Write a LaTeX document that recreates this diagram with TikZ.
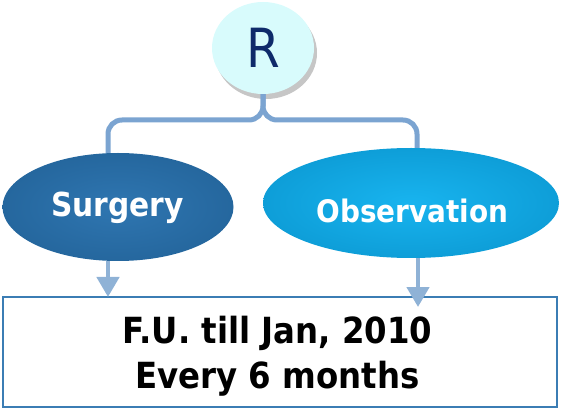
\documentclass[tikz,border=0pt]{standalone}
\usepackage{fontspec}
\setmainfont{DejaVu Sans Condensed}
\usetikzlibrary{shapes.geometric,shadows,arrows.meta}
\definecolor{rfill}{HTML}{D8FBFC}
\definecolor{rtext}{HTML}{0E2A6A}
\definecolor{bracec}{HTML}{7BA4D1}
\definecolor{surgc}{HTML}{2F76B1}
\definecolor{surgo}{HTML}{25679E}
\definecolor{obsc}{HTML}{18B4EF}
\definecolor{obso}{HTML}{0E9ED8}
\definecolor{arrc}{HTML}{8FB2D6}
\definecolor{boxc}{HTML}{3B7DB4}
\tikzset{
  roundnode/.style={ellipse, fill=rfill, minimum width=102pt, minimum height=92pt, inner sep=0pt,
    drop shadow={opacity=0.45, shadow xshift=3pt, shadow yshift=-5pt}},
  armnode/.style={ellipse, inner sep=0pt},
  armtext/.style={anchor=base, inner sep=0pt, text=white, font=\bfseries\fontsize{#1}{#1}\selectfont},
  fuarrow/.style={draw=arrc, line width=4.5pt, -{Triangle[width=22pt,length=20pt]}},
  bracestyle/.style={draw=bracec, line width=5pt, rounded corners=14pt},
  fubox/.style={draw=boxc, line width=1.6pt, fill=white, minimum width=554pt, minimum height=110pt, inner sep=0pt},
  futext/.style={anchor=base, inner sep=0pt, font=\bfseries\fontsize{36}{45}\selectfont}
}
\begin{document}
\begin{tikzpicture}[x=1pt,y=-1pt]
\useasboundingbox (0,0) rectangle (564,411);
\coordinate (bl) at (108,160);
\coordinate (br) at (417,160);
\coordinate (bm) at (263,120);
\node[roundnode] (r) at (263,48) {};
\node[anchor=base, inner sep=0pt, text=rtext, font=\fontsize{54}{54}\selectfont] (rl) at (263,68) {R};
\draw[bracestyle] (bl) -- (bl |- bm) -- (bm) -- (r.south);
\draw[bracestyle] (br) -- (br |- bm) -- (bm) -- (r.south);
\node[armnode, shade, inner color=surgc, outer color=surgo, minimum width=231pt, minimum height=108pt] (s) at (118,207) {};
\node[armtext=33] (st) at (117.5,217) {Surgery};
\node[armnode, shade, inner color=obsc, outer color=obso, minimum width=296pt, minimum height=110pt] (o) at (411,203) {};
\node[armtext=31] (ot) at (412.5,223) {Observation};
\node[fubox] (f) at (280,352) {};
\node[futext] (f1) at (277.5,343) {F.U. till Jan, 2010};
\node[futext] (f2) at (277.5,388) {Every 6 months};
\coordinate (fs) at (108,297);
\coordinate (fo) at (418,307);
\draw[fuarrow] (s.south -| fs) -- (fs);
\draw[fuarrow] (o.south -| fo) -- (fo);
\end{tikzpicture}
\end{document}
